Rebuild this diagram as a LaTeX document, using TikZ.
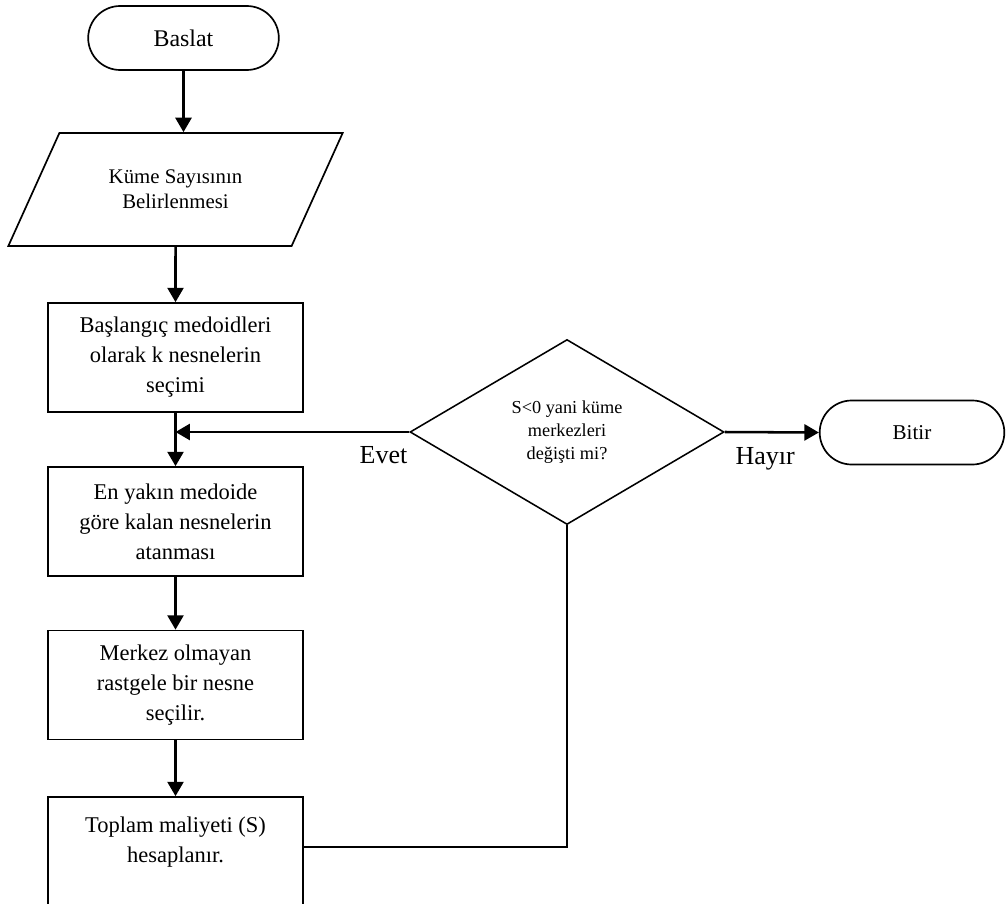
\documentclass[tikz,border=0pt]{standalone}
\usepackage{fontspec}
\setmainfont{Liberation Serif}
\usetikzlibrary{shapes.geometric,shapes.misc,arrows.meta}

\begin{document}
\begin{tikzpicture}[
    box/.style={draw, line width=1.2pt, minimum width=6.375cm, minimum height=2.725cm, align=center, font=\fontsize{16}{21.3}\selectfont},
    term/.style={draw, rounded rectangle, line width=1.2pt, minimum height=1.6cm},
    arr/.style={line width=1.8pt, -{Triangle[length=3.6mm,width=4mm]}},
    lbl/.style={font=\fontsize{18.5}{20}\selectfont, yshift=-0.22cm},
  ]
    \useasboundingbox (0,0) rectangle (25.15,-22.575);
    \node[term, minimum width=5cm, font=\fontsize{17}{20}\selectfont] (baslat) at (4.5875,-0.95) {Baslat};
    \node[draw, trapezium, trapezium left angle=57, trapezium right angle=123, trapezium stretches=true,
      minimum width=8.375cm, minimum height=2.825cm, line width=1.2pt, align=center,
      font=\fontsize{14.8}{17.8}\selectfont] (kume) at (4.3875,-4.7375) {Küme Sayısının\\Belirlenmesi};
    \node[box] (secim) at (4.3875,-8.9375) {Başlangıç medoidleri\\olarak k nesnelerin\\seçimi};
    \node[box] (atama) at (4.3875,-13.0375) {En yakın medoide\\göre kalan nesnelerin\\atanması};
    \node[box] (rast) at (4.3875,-17.125) {Merkez olmayan\\rastgele bir nesne\\seçilir.};
    \node[box, minimum height=2.9cm] (maliyet) at (4.3875,-21.375) {Toplam maliyeti (S)\\hesaplanır.\\~};
    \node[draw, diamond, line width=1.1pt, inner sep=0pt, minimum width=7.85cm, minimum height=4.625cm,
      align=center, font=\fontsize{13}{16.4}\selectfont] (karar) at (14.175,-10.8) {S<0 yani küme\\merkezleri\\değişti mi?};
    \node[term, minimum width=4.85cm, font=\fontsize{15}{18}\selectfont] (bitir) at (22.8,-10.8125) {Bitir};

    \path[draw, arr] (baslat.south) -- (baslat.south |- kume.north);
    \path[draw, arr] (kume.south) -- (secim.north);
    \path[draw, arr] (secim.south) -- (atama.north);
    \path[draw, arr] (atama.south) -- (rast.north);
    \path[draw, arr] (rast.south) -- (maliyet.north);
    \path[draw, arr] (karar.west) -- node[lbl, below, pos=0.11] {Evet} (karar.west -| secim.south);
    \path[draw, arr] (karar.east) -- node[lbl, below, pos=0.43] {Hayır} (bitir.west);
    \path[draw, line width=1.1pt] ([yshift=0.2cm]maliyet.east) -| (karar.south);
\end{tikzpicture}
\end{document}
